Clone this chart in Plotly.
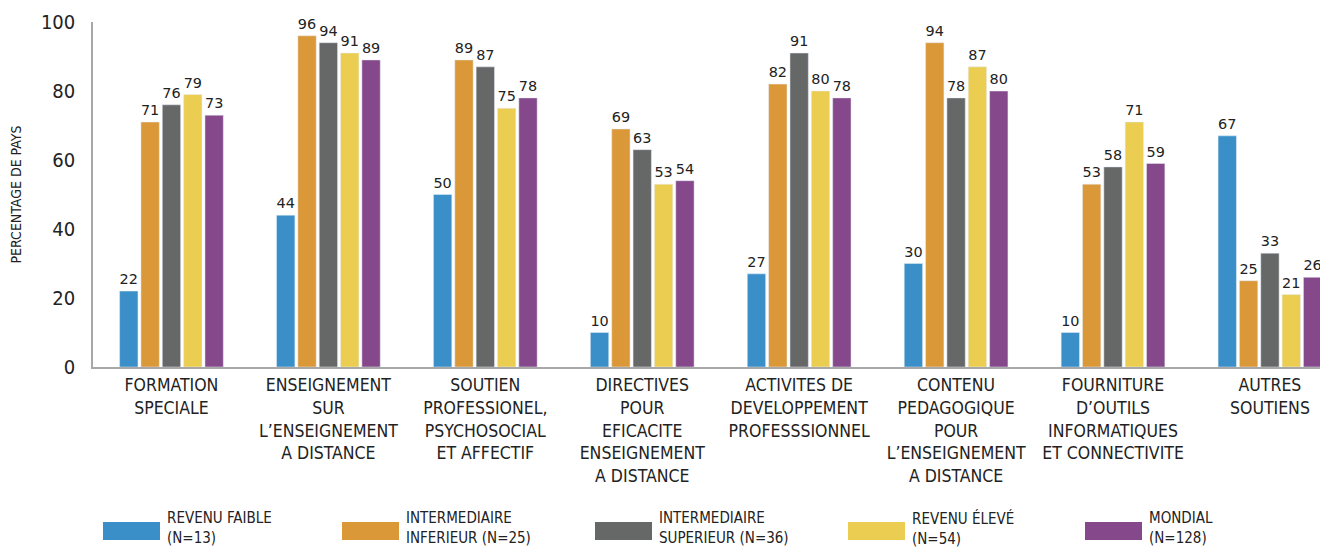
import plotly.graph_objects as go

categories = [
    "FORMATION<br>SPECIALE",
    "ENSEIGNEMENT<br>SUR<br>L’ENSEIGNEMENT<br>A DISTANCE",
    "SOUTIEN<br>PROFESSIONEL,<br>PSYCHOSOCIAL<br>ET AFFECTIF",
    "DIRECTIVES<br>POUR<br>EFICACITE<br>ENSEIGNEMENT<br>A DISTANCE",
    "ACTIVITES DE<br>DEVELOPPEMENT<br>PROFESSSIONNEL",
    "CONTENU<br>PEDAGOGIQUE<br>POUR<br>L’ENSEIGNEMENT<br>A DISTANCE",
    "FOURNITURE<br>D’OUTILS<br>INFORMATIQUES<br>ET CONNECTIVITE",
    "AUTRES<br>SOUTIENS",
]

series_names = [
    "REVENU FAIBLE<br>(N=13)",
    "INTERMEDIAIRE<br>INFERIEUR (N=25)",
    "INTERMEDIAIRE<br>SUPERIEUR (N=36)",
    "REVENU ÉLEVÉ<br>(N=54)",
    "MONDIAL<br>(N=128)",
]

revenu_faible = [22, 44, 50, 10, 27, 30, 10, 67]
intermediaire_inferieur = [71, 96, 89, 69, 82, 94, 53, 25]
intermediaire_superieur = [76, 94, 87, 63, 91, 78, 58, 33]
revenu_eleve = [79, 91, 75, 53, 80, 87, 71, 21]
mondial = [73, 89, 78, 54, 78, 80, 59, 26]

series_values = [revenu_faible, intermediaire_inferieur, intermediaire_superieur,
                 revenu_eleve, mondial]
colors = ["#3A8FC8", "#DA9838", "#666868", "#EBCD52", "#85498B"]

y_ticks = [0, 20, 40, 60, 80, 100]

COND = "Liberation Sans Narrow, DejaVu Sans Condensed, Arial Narrow, sans-serif"

x_idx = list(range(len(categories)))

fig = go.Figure()
for name, vals, col in zip(series_names, series_values, colors):
    fig.add_trace(go.Bar(
        x=x_idx, y=vals, name=name, marker_color=col,
        text=[str(v) for v in vals], textposition="outside",
        textfont=dict(family="DejaVu Sans, sans-serif", size=15, color="#222222"),
        cliponaxis=False, showlegend=False,
    ))

# page body has an 8px margin: figure is 1320x541 so it fits the 1328x549 window
fig.update_layout(
    width=1320, height=541,
    paper_bgcolor="white", plot_bgcolor="white",
    margin=dict(l=85, r=0, t=14, b=182),
    barmode="group", bargap=0.32, bargroupgap=0.14,
)

fig.update_xaxes(
    tickmode="array", tickvals=x_idx, ticktext=categories,
    range=[-0.5, 7.37], automargin=False,
    showline=True, linecolor="#A8A8A8", linewidth=2,
    ticks="outside", ticklen=1, tickcolor="rgba(0,0,0,0)",
    tickfont=dict(family=COND, size=17.5, color="#222222"),
    showgrid=False, zeroline=False, tickangle=0,
)
fig.update_yaxes(
    range=[0, 100], tickvals=y_ticks, automargin=False,
    showline=True, linecolor="#A8A8A8", linewidth=1.5,
    ticks="outside", ticklen=12, tickcolor="rgba(0,0,0,0)",
    tickfont=dict(family=COND, size=20, color="#222222"),
    showgrid=False, zeroline=False,
    title=dict(text="PERCENTAGE DE PAYS", standoff=17,
               font=dict(family=COND, size=14, color="#222222")),
)

# legend drawn as shapes + annotations (positions relative to plot area)
legend_x = [103, 342, 595, 848, 1085]
for lx, name, col in zip(legend_x, series_names, colors):
    fig.add_shape(type="rect", xref="paper", yref="paper",
                  x0=(lx - 93) / 1235, x1=(lx + 57 - 93) / 1235,
                  y0=-(540 - 367) / 345, y1=-(522 - 367) / 345,
                  fillcolor=col, line=dict(width=0))
    fig.add_annotation(xref="paper", yref="paper",
                       x=(lx + 62 - 93) / 1235, y=-(507 - 367) / 345,
                       xanchor="left", yanchor="top", align="left",
                       text=name, showarrow=False,
                       font=dict(family=COND, size=15, color="#222222"))

fig.write_html("out.html")
